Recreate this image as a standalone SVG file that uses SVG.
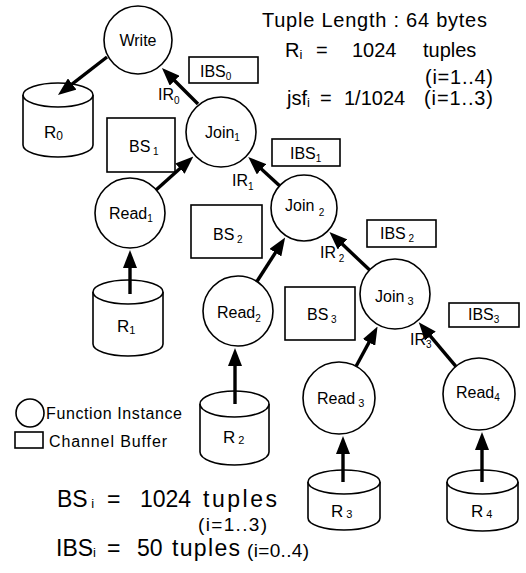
<svg xmlns="http://www.w3.org/2000/svg" width="526" height="573" viewBox="0 0 526 573">
<style>
text{font-family:"Liberation Sans",Arial,sans-serif;fill:#000}
.n{font-size:16px}
.s{font-size:10px}
.big{font-size:20px}
.c{fill:#fff;stroke:#000;stroke-width:1.6}
.b{fill:#fff;stroke:#000;stroke-width:1.6}
.e{stroke:#000;stroke-width:3.4;fill:none;marker-end:url(#ah)}
</style>
<defs>
<marker id="ah" markerUnits="userSpaceOnUse" markerWidth="18" markerHeight="14" viewBox="0 0 18 14" refX="12" refY="7" orient="auto">
<path d="M0,0 L18,7 L0,14 Z" fill="#000"/>
</marker>
</defs>
<rect width="526" height="573" fill="#fff"/>

<g id="write"><circle class="c" cx="138" cy="40" r="34"/><text class="n" x="138" y="46" text-anchor="middle">Write</text></g>
<g id="join1"><circle class="c" cx="221" cy="132" r="35"/><text class="n" x="205" y="138">Join<tspan class="s" dy="3">1</tspan></text></g>
<g id="join2"><circle class="c" cx="304" cy="208" r="33"/><text class="n" x="285" y="211">Join <tspan class="s" dy="5" font-size="11">2</tspan></text></g>
<g id="join3"><circle class="c" cx="395" cy="294" r="35"/><text class="n" x="375" y="302">Join<tspan font-size="11" dy="3"> 3</tspan></text></g>
<g id="read1"><circle class="c" cx="130" cy="213" r="35"/><text class="n" x="109" y="219">Read<tspan class="s" dy="3">1</tspan></text></g>
<g id="read2"><circle class="c" cx="238" cy="311" r="35"/><text class="n" x="217" y="318">Read<tspan class="s" dy="4">2</tspan></text></g>
<g id="read3"><circle class="c" cx="339" cy="398" r="36"/><text class="n" x="317" y="404">Read<tspan font-size="11" dy="3"> 3</tspan></text></g>
<g id="read4"><circle class="c" cx="479" cy="394" r="36"/><text class="n" x="456" y="398">Read<tspan class="s" dy="3">4</tspan></text></g>

<g id="r0"><path class="c" d="M23,95 V145 A35,12 0 0 0 93,145 V95"/><ellipse class="c" cx="58" cy="95" rx="35" ry="12"/><text font-size="17" x="44" y="138">R<tspan font-size="12" dy="2">0</tspan></text></g>
<g id="r1"><path class="c" d="M93,292 V344 A35,12 0 0 0 163,344 V292"/><ellipse class="c" cx="128" cy="292" rx="35" ry="12"/><text font-size="17" x="117" y="332">R<tspan font-size="11" dy="2">1</tspan></text></g>
<g id="r2"><path class="c" d="M200,404 V452 A34.5,13 0 0 0 269,452 V404"/><ellipse class="c" cx="234.5" cy="404" rx="34.5" ry="13"/><text font-size="17" x="223" y="443">R<tspan font-size="11" dy="1"> 2</tspan></text></g>
<g id="r3"><path class="c" d="M308,482 V518 A36,12 0 0 0 380,518 V482"/><ellipse class="c" cx="344" cy="482" rx="36" ry="12"/><text font-size="17" x="331" y="517">R<tspan font-size="11" dy="1"> 3</tspan></text></g>
<g id="r4"><path class="c" d="M447,482 V519 A35.5,12 0 0 0 518,519 V482"/><ellipse class="c" cx="482.5" cy="482" rx="35.5" ry="12"/><text font-size="17" x="471" y="517">R<tspan font-size="11" dy="1"> 4</tspan></text></g>

<g id="ibs0"><rect class="b" x="189" y="57" width="69" height="26"/><text class="n" x="200" y="77">IBS<tspan class="s" dy="3">0</tspan></text></g>
<g id="bs1"><rect class="b" x="107" y="118" width="68" height="54"/><text class="n" x="129" y="152">BS<tspan class="s" dy="3"> 1</tspan></text></g>
<g id="ibs1"><rect class="b" x="272" y="139" width="68" height="27"/><text class="n" x="290" y="159">IBS<tspan class="s" dy="3">1</tspan></text></g>
<g id="bs2"><rect class="b" x="191" y="205" width="71" height="53"/><text class="n" x="213" y="240">BS<tspan class="s" dy="3"> 2</tspan></text></g>
<g id="ibs2"><rect class="b" x="367" y="220" width="69" height="27"/><text class="n" x="380" y="239">IBS<tspan class="s" dy="3"> 2</tspan></text></g>
<g id="bs3"><rect class="b" x="285" y="287" width="70" height="53"/><text class="n" x="307" y="320">BS<tspan class="s" dy="3"> 3</tspan></text></g>
<g id="ibs3"><rect class="b" x="449" y="303" width="70" height="24"/><text class="n" x="468" y="320">IBS<tspan class="s" dy="3">3</tspan></text></g>

<g id="connectors">
<line class="e" x1="107" y1="57" x2="62.7" y2="91.3"/>
<line class="e" x1="198" y1="104" x2="166.2" y2="72.2"/>
<line class="e" x1="156" y1="190" x2="188.9" y2="160.6"/>
<line class="e" x1="279.6" y1="185.7" x2="252.7" y2="161.1"/>
<line class="e" x1="256.9" y1="281.5" x2="281.9" y2="242.6"/>
<line class="e" x1="369.6" y1="270" x2="333.8" y2="236.1"/>
<line class="e" x1="356.1" y1="366.3" x2="374.7" y2="331.9"/>
<line class="e" x1="455.9" y1="366.4" x2="422.6" y2="326.9"/>
<line class="e" x1="130" y1="294" x2="130" y2="256"/>
<line class="e" x1="235" y1="404" x2="235" y2="354"/>
<line class="e" x1="343" y1="482" x2="343" y2="442"/>
<line class="e" x1="482" y1="482" x2="482" y2="438"/>
</g>

<g id="edge-labels">
<text class="n" x="158" y="100">IR<tspan class="s" dy="4">0</tspan></text>
<text class="n" x="232" y="186">IR<tspan class="s" dy="4">1</tspan></text>
<text class="n" x="320" y="258">IR<tspan class="s" dy="4"> 2</tspan></text>
<text class="n" x="410" y="345">IR<tspan class="s" dy="3">3</tspan></text>
</g>

<g id="legend">
<circle class="c" cx="30" cy="413" r="14"/>
<text font-size="16" x="46" y="419" textLength="136">Function Instance</text>
<rect class="b" x="15" y="432" width="28" height="16"/>
<text font-size="16" x="49" y="447" textLength="118">Channel  Buffer</text>
</g>

<g id="notes">
<text class="big" x="262" y="27" textLength="225">Tuple Length :  64 bytes</text>
<text class="big" x="285" y="57">R<tspan font-size="13" dy="2">i</tspan></text>
<text class="big" x="316" y="57">=</text>
<text class="big" x="352" y="57">1024</text>
<text class="big" x="423" y="57">tuples</text>
<text font-size="20" x="425" y="84" textLength="68">(i=1..4)</text>
<text class="big" x="287" y="105">jsf<tspan font-size="13" dy="2">i</tspan></text>
<text class="big" x="320" y="105">=</text>
<text class="big" x="344" y="105">1/1024</text>
<text font-size="20" x="424" y="105" textLength="69">(i=1..3)</text>

<text font-size="23" x="57" y="507">BS<tspan font-size="13" dy="1"> i</tspan></text>
<text font-size="23" x="107" y="507">=</text>
<text font-size="23" x="140" y="507">1024</text>
<text font-size="23" x="203" y="507" textLength="74">tuples</text>
<text font-size="19" x="198" y="531" textLength="69">(i=1..3)</text>
<text font-size="23" x="56" y="556">IBS<tspan font-size="13" dy="1">i</tspan></text>
<text font-size="23" x="107" y="556">=</text>
<text font-size="23" x="137" y="556">50</text>
<text font-size="23" x="172" y="556" textLength="68">tuples</text>
<text font-size="19" x="247" y="557" textLength="62">(i=0..4)</text>
</g>
</svg>
